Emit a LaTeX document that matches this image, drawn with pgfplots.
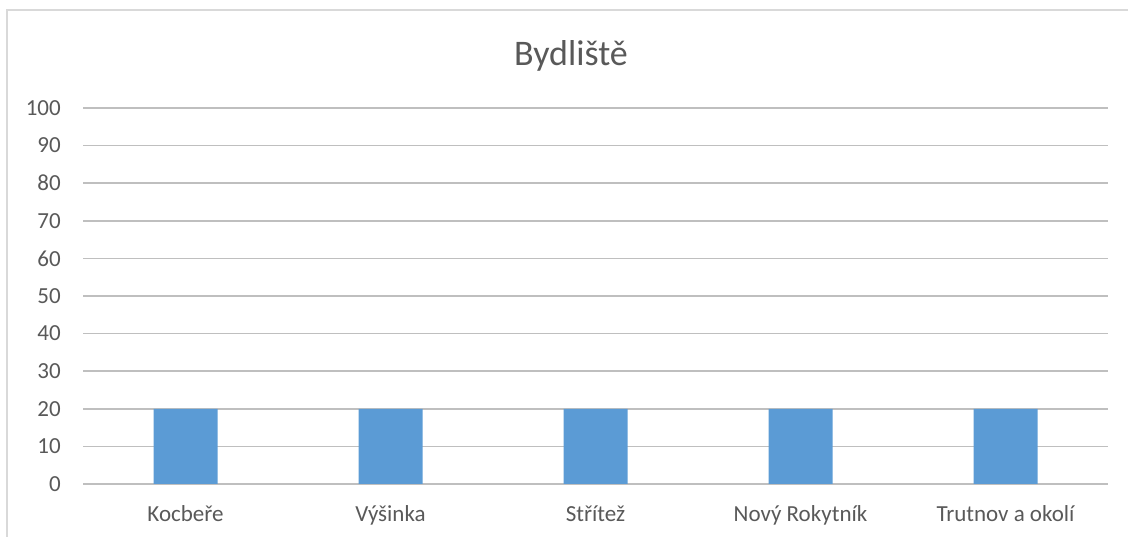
\documentclass[border=0pt]{standalone}
\usepackage{fontspec}
\setmainfont{Carlito}
\usepackage{pgfplots}
\pgfplotsset{compat=1.18}
\definecolor{bar}{HTML}{5B9BD5}
\definecolor{grid}{HTML}{D9D9D9}
\definecolor{txt}{HTML}{595959}
\begin{document}
\begin{tikzpicture}[x=1bp,y=1bp]
\path[use as bounding box] (0,0) rectangle (1128,537);
\draw[grid, line width=1.2bp] (7,-5) -- (7,527) -- (1135,527);
\node[txt, anchor=base, font=\fontsize{36bp}{40bp}\selectfont] at (571,471) {Bydliště};
\begin{axis}[
  at={(83bp,53bp)}, anchor=south west,
  scale only axis, width=1025bp, height=376bp,
  xmin=-0.5, xmax=4.5, ymin=0, ymax=100,
  ytick={0,10,...,100},
  xtick={0,1,2,3,4},
  xticklabels={Kocbeře,Výšinka,Střítež,Nový Rokytník,Trutnov a okolí},
  axis line style={draw=none},
  major tick length=0pt,
  xmajorgrids=false,
  ymajorgrids=true, grid style={grid, line width=1.5bp},
  /pgf/number format/assume math mode=true,
  tick label style={txt, font=\fontsize{23bp}{27bp}\selectfont, inner sep=0pt},
  yticklabel style={anchor=east, xshift=-22bp},
  xticklabel style={anchor=base, yshift=-38bp},
  clip=false,
]
\addplot[ybar, bar width=64bp, fill=bar, draw=none] coordinates {(0,20) (1,20) (2,20) (3,20) (4,20)};
\end{axis}
\end{tikzpicture}
\end{document}
